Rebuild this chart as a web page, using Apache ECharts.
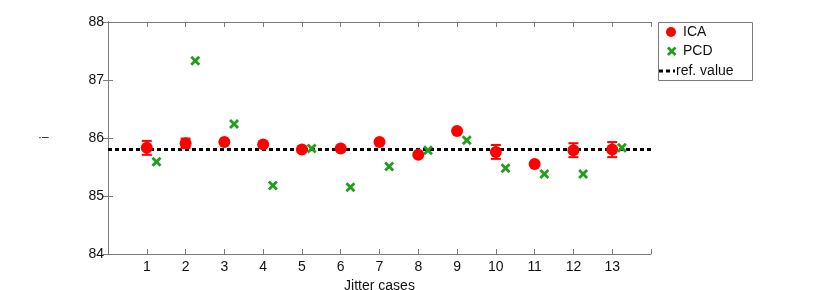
<!DOCTYPE html>
<html><head><meta charset="utf-8">
<script src="https://cdn.jsdelivr.net/npm/echarts@6/dist/echarts.min.js"></script>
<style>html,body{margin:0;padding:0;background:#fff}#c{width:830px;height:290px}</style>
</head><body><div id="c"></div>
<script>
const cases = [1,2,3,4,5,6,7,8,9,10,11,12,13];
const icaValues = [85.83,85.91,85.93,85.89,85.80,85.82,85.93,85.71,86.12,85.76,85.55,85.79,85.80];
const icaErrors = [0.12,0.08,0.02,0.02,0.02,0.02,0.02,0.02,0.02,0.12,0.02,0.12,0.13];
const pcdValues = [85.59,87.33,86.24,85.18,85.82,85.15,85.51,85.79,85.96,85.48,85.38,85.38,85.83];
const pcdOffset = 0.25;
const refValue = 85.8;
const yTicks = [84,85,86,87,88];

const font = '"Liberation Sans", Arial, sans-serif';
const axisColor = '#7a7a7a';
const red = '#ff0000';
const green = '#20a01a';
const xPts = [[0,2],[2,0],[5,3],[8,0],[10,2],[7,5],[10,8],[8,10],[5,7],[2,10],[0,8],[3,5]];
const xPath = 'path://M' + xPts.map(p=>p[0]+','+p[1]).join(' L') + ' Z';

const icaData = cases.map((c,i)=>[c, icaValues[i]]);
const pcdData = cases.map((c,i)=>[c+pcdOffset, pcdValues[i]]);
const errData = cases.map((c,i)=>[c, icaValues[i]-icaErrors[i], icaValues[i]+icaErrors[i]]);

const chart = echarts.init(document.getElementById('c'), null, {renderer:'canvas'});
const baseX = {
  type:'value', min:0, max:14, interval:1,
  axisLine:{show:true, lineStyle:{color:axisColor, width:1}},
  axisTick:{show:true, inside:true, length:5, lineStyle:{color:axisColor}},
  splitLine:{show:false}
};
const baseY = {
  type:'value', min:yTicks[0], max:yTicks[yTicks.length-1], interval:1,
  axisLine:{show:true, lineStyle:{color:axisColor, width:1}},
  axisTick:{show:true, inside:true, length:5, lineStyle:{color:axisColor}},
  splitLine:{show:false}
};
const legendX = 667, legendXY = 46.5, s = 0.95;
chart.setOption({
  animation:false,
  grid:{left:108, right:179, top:22, bottom:36, containLabel:false, outerBoundsMode:'none'},
  xAxis:[
    Object.assign({}, baseX, {position:'bottom',
      name:'Jitter cases', nameLocation:'middle', nameGap:22,
      nameTextStyle:{color:'#111', fontSize:14, fontFamily:font},
      axisLabel:{show:true, margin:6, color:'#111', fontSize:14, fontFamily:font,
        formatter:v=> (cases.indexOf(v)>=0 ? String(v) : '')}
    }),
    Object.assign({}, baseX, {position:'top', axisLabel:{show:false}})
  ],
  yAxis:[
    Object.assign({}, baseY, {position:'left',
      axisLabel:{show:true, margin:4, color:'#111', fontSize:14, fontFamily:font}}),
    Object.assign({}, baseY, {position:'right', axisLabel:{show:false}})
  ],
  series:[
    {name:'ref. value', type:'line', data:[[0,refValue],[14,refValue]], symbol:'none',
     lineStyle:{color:'#000', width:3, type:[4,3]}, z:2, silent:true},
    {name:'ICA err', type:'custom', data:errData, z:3,
     renderItem:function(params, api){
       const x = api.value(0);
       const lo = api.coord([x, api.value(1)]);
       const hi = api.coord([x, api.value(2)]);
       const cw = 5;
       const st = {stroke:red, lineWidth:2};
       return {type:'group', children:[
         {type:'line', shape:{x1:lo[0], y1:lo[1], x2:hi[0], y2:hi[1]}, style:st},
         {type:'line', shape:{x1:lo[0]-cw, y1:lo[1], x2:lo[0]+cw, y2:lo[1]}, style:st},
         {type:'line', shape:{x1:hi[0]-cw, y1:hi[1], x2:hi[0]+cw, y2:hi[1]}, style:st}
       ]};
     }},
    {name:'ICA', type:'scatter', data:icaData, symbol:'circle', symbolSize:12,
     itemStyle:{color:red, opacity:1}, z:4},
    {name:'PCD', type:'scatter', data:pcdData, symbol:xPath, symbolSize:10,
     itemStyle:{color:green, opacity:1}, z:4}
  ],
  graphic:[
    {type:'text', x:38, y:132, style:{text:'·–', fill:'#111', font:'12px '+font}},
    {type:'rect', shape:{x:658.5, y:22.5, width:94, height:58}, style:{fill:'#fff', stroke:axisColor, lineWidth:1}, z:10},
    {type:'circle', shape:{cx:671, cy:32, r:5}, style:{fill:red}, z:11},
    {type:'text', x:683, y:32, style:{text:'ICA', fill:'#111', font:'14px '+font, verticalAlign:'middle'}, z:11},
    {type:'polygon', shape:{points:xPts.map(p=>[legendX+p[0]*s, legendXY+p[1]*s])}, style:{fill:green}, z:11},
    {type:'text', x:683, y:51, style:{text:'PCD', fill:'#111', font:'14px '+font, verticalAlign:'middle'}, z:11},
    {type:'line', shape:{x1:659, y1:71, x2:675, y2:71}, style:{stroke:'#000', lineWidth:3, lineDash:[4,3]}, z:11},
    {type:'text', x:676, y:71, style:{text:'ref. value', fill:'#111', font:'14px '+font, verticalAlign:'middle'}, z:11}
  ]
});
</script>
</body></html>
